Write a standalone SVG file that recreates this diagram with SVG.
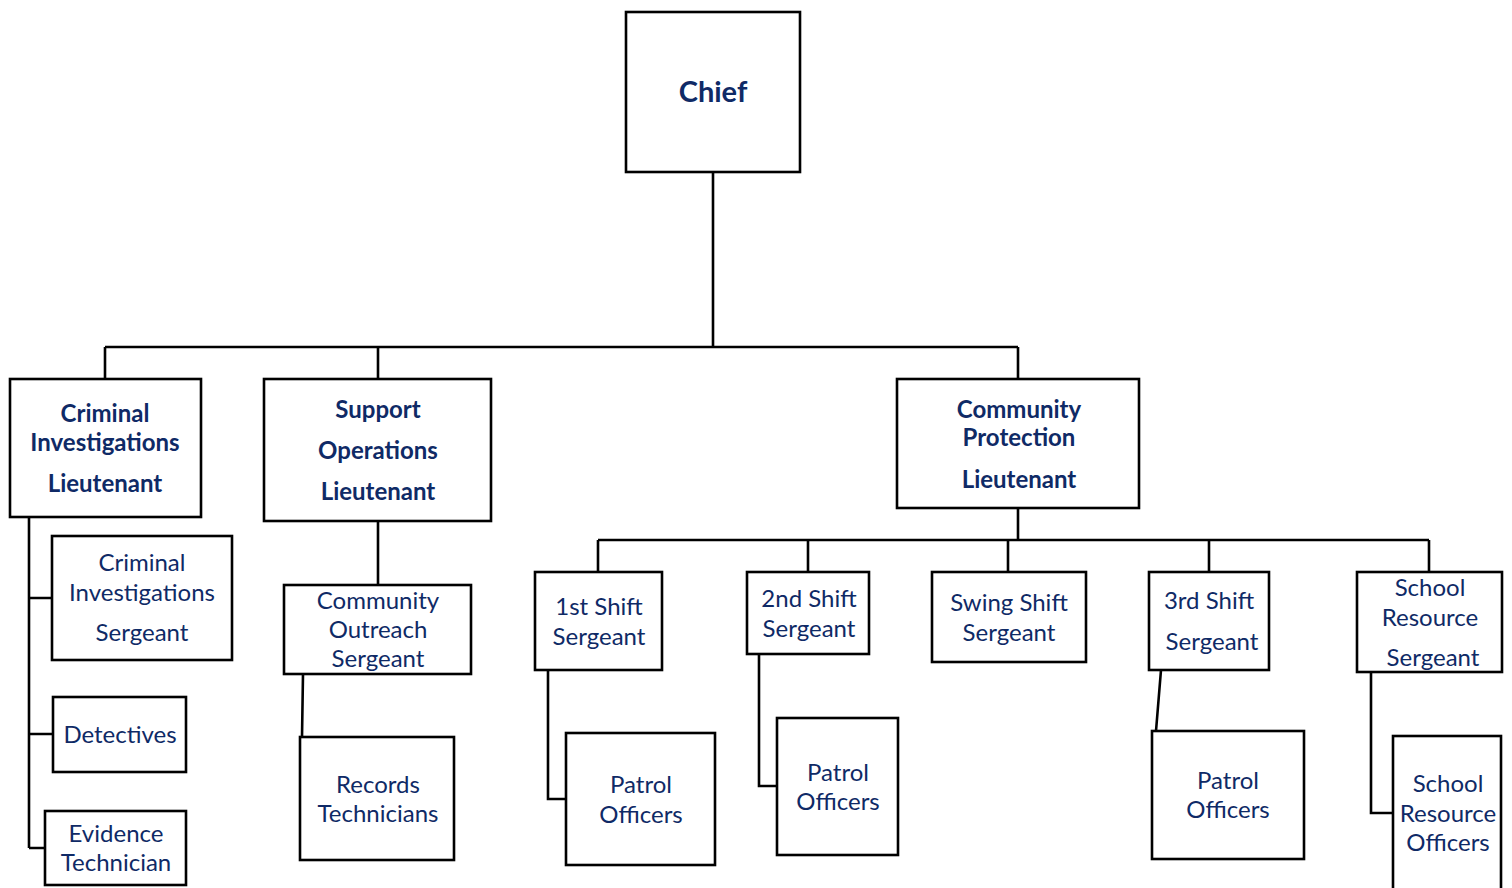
<svg xmlns="http://www.w3.org/2000/svg" width="1512" height="888" viewBox="0 0 1512 888">
<style>
.box{fill:#fff;stroke:#000;stroke-width:2.6}
.ln{fill:none;stroke:#000;stroke-width:2.6}
text{font-family:Lato,"Open Sans","Liberation Sans",sans-serif;fill:#0f2a66;text-anchor:middle}
.b{font-weight:bold;font-size:24px}
.r{font-size:24px}
.c{font-weight:bold;font-size:29px}
</style>
<rect width="1512" height="888" fill="#fff"/>
<g id="connectors">
<path class="ln" d="M713 171V347M105 347H1018M105 347V379M378 347V379M1018 347V379"/>
<path class="ln" d="M29 517V848M29 598H52M29 734H53M29 848H45"/>
<path class="ln" d="M378 521V585M303 674L302 737"/>
<path class="ln" d="M1018 508V540M598 540H1429M598 540V572M808 540V572M1008 540V572M1209 540V572M1429 540V572"/>
<path class="ln" d="M548 670V799H566M759 654V786H777M1161 670L1156 731M1371 672V813H1393"/>
</g>
<g id="chief"><rect class="box" x="626" y="12" width="174" height="160"/><text class="c" x="713" y="102">Chief</text></g>
<g id="ci-lt"><rect class="box" x="10" y="379" width="191" height="138"/><text class="b" x="105" y="422">Criminal</text><text class="b" x="105" y="451">Investigations</text><text class="b" x="105" y="492">Lieutenant</text></g>
<g id="so-lt"><rect class="box" x="264" y="379" width="227" height="142"/><text class="b" x="378" y="418">Support</text><text class="b" x="378" y="459">Operations</text><text class="b" x="378" y="500">Lieutenant</text></g>
<g id="cp-lt"><rect class="box" x="897" y="379" width="242" height="129"/><text class="b" x="1019" y="418">Community</text><text class="b" x="1019" y="446">Protection</text><text class="b" x="1019" y="488">Lieutenant</text></g>
<g id="ci-sgt"><rect class="box" x="52" y="536" width="180" height="124"/><text class="r" x="142" y="571">Criminal</text><text class="r" x="142" y="601">Investigations</text><text class="r" x="142" y="641">Sergeant</text></g>
<g id="detectives"><rect class="box" x="53" y="697" width="133" height="75"/><text class="r" x="120" y="743">Detectives</text></g>
<g id="evidence"><rect class="box" x="45" y="811" width="141" height="74"/><text class="r" x="116" y="842">Evidence</text><text class="r" x="116" y="871">Technician</text></g>
<g id="co-sgt"><rect class="box" x="284" y="585" width="187" height="89"/><text class="r" x="378" y="609">Community</text><text class="r" x="378" y="638">Outreach</text><text class="r" x="378" y="667">Sergeant</text></g>
<g id="records"><rect class="box" x="300" y="737" width="154" height="123"/><text class="r" x="378" y="793">Records</text><text class="r" x="378" y="822">Technicians</text></g>
<g id="s1"><rect class="box" x="535" y="572" width="127" height="98"/><text class="r" x="599" y="615">1st Shift</text><text class="r" x="599" y="645">Sergeant</text></g>
<g id="p1"><rect class="box" x="566" y="733" width="149" height="132"/><text class="r" x="641" y="793">Patrol</text><text class="r" x="641" y="823">Officers</text></g>
<g id="s2"><rect class="box" x="747" y="572" width="122" height="82"/><text class="r" x="809" y="607">2nd Shift</text><text class="r" x="809" y="637">Sergeant</text></g>
<g id="p2"><rect class="box" x="777" y="718" width="121" height="137"/><text class="r" x="838" y="781">Patrol</text><text class="r" x="838" y="810">Officers</text></g>
<g id="swing"><rect class="box" x="932" y="572" width="154" height="90"/><text class="r" x="1009" y="611">Swing Shift</text><text class="r" x="1009" y="641">Sergeant</text></g>
<g id="s3"><rect class="box" x="1149" y="572" width="120" height="98"/><text class="r" x="1209" y="609">3rd Shift</text><text class="r" x="1212" y="650">Sergeant</text></g>
<g id="p3"><rect class="box" x="1152" y="731" width="152" height="128"/><text class="r" x="1228" y="789">Patrol</text><text class="r" x="1228" y="818">Officers</text></g>
<g id="sr-sgt"><rect class="box" x="1357" y="572" width="145" height="100"/><text class="r" x="1430" y="596">School</text><text class="r" x="1430" y="626">Resource</text><text class="r" x="1433" y="666">Sergeant</text></g>
<g id="sro"><rect class="box" x="1393" y="736" width="108" height="160"/><text class="r" x="1448" y="792">School</text><text class="r" x="1448" y="822">Resource</text><text class="r" x="1448" y="851">Officers</text></g>
</svg>
